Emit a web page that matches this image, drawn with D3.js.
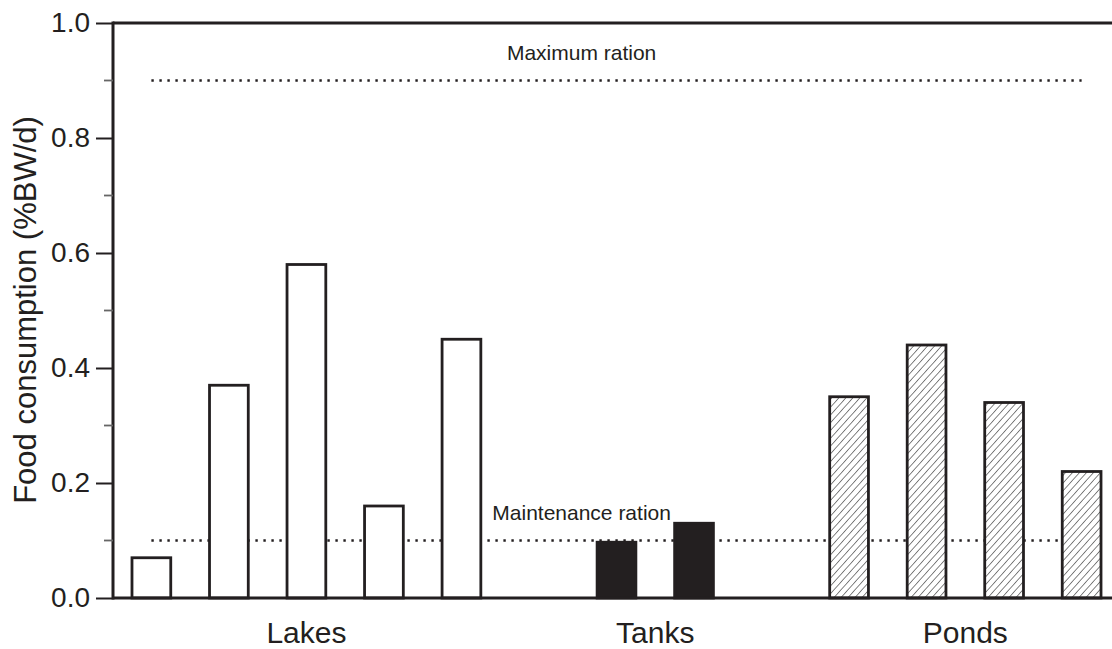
<!DOCTYPE html>
<html><head><meta charset="utf-8">
<script src="https://cdn.jsdelivr.net/npm/d3@7"></script>
<style>
html,body{margin:0;padding:0;background:#fff;}
svg{display:block;font-family:"Liberation Sans",Arial,Helvetica,sans-serif;}
</style></head>
<body>
<svg id="chart" width="1112" height="649"></svg>
<script>
// ---- data ----
const groupNames = ["Lakes", "Tanks", "Ponds"];
const lakesValues = [0.07, 0.37, 0.58, 0.16, 0.45];
const tanksValues = [0.097, 0.13];
const pondsValues = [0.35, 0.44, 0.34, 0.22];
const yMajorTicks = [0.0, 0.2, 0.4, 0.6, 0.8, 1.0];
const yMinorTicks = [0.1, 0.3, 0.5, 0.7, 0.9];
const refLabels = ["Maximum ration", "Maintenance ration"];
const refValues = [0.9, 0.1];
const yAxisTitle = "Food consumption (%BW/d)";

// ---- layout ----
const W = 1112, H = 649;
const ink = "#231f20";
const svg = d3.select("#chart");
const groupValues = [lakesValues, tanksValues, pondsValues];
const groupStyles = ["open", "solid", "hatch"];

// build slots with one empty slot between groups
const bars = [];
const groupSlots = [];
let slot = 0;
groupValues.forEach((vals, gi) => {
  const slots = [];
  vals.forEach(v => { bars.push({slot, value: v, style: groupStyles[gi]}); slots.push(slot); slot++; });
  groupSlots.push(slots);
  if (gi < groupValues.length - 1) slot++;
});
const nSlots = slot;

const x = d3.scaleBand().domain(d3.range(nSlots)).range([113, 1120]).paddingInner(0.5).paddingOuter(0.245);
const y = d3.scaleLinear().domain([0, 1]).range([598, 23]);
const xc = s => x(s) + x.bandwidth() / 2;

// hatch pattern
const defs = svg.append("defs");
const pat = defs.append("pattern").attr("id", "hatch").attr("patternUnits", "userSpaceOnUse")
  .attr("width", 5.2).attr("height", 10).attr("patternTransform", "rotate(42)");
pat.append("rect").attr("width", 5.2).attr("height", 10).attr("fill", "#fff");
pat.append("line").attr("x1", 0).attr("y1", 0).attr("x2", 0).attr("y2", 10)
  .attr("stroke", "#333").attr("stroke-width", 1.2);

// reference dotted lines
const x0 = xc(0), x1 = xc(nSlots - 1);
svg.selectAll("line.ref").data(refValues).join("line").attr("class", "ref")
  .attr("x1", x0).attr("x2", x1).attr("y1", d => y(d)).attr("y2", d => y(d))
  .attr("stroke", ink).attr("stroke-width", 2.4).attr("stroke-dasharray", "2.4,5.6");
const labelX = xc(5) + x.step() * 0.55;
svg.selectAll("text.reflab").data(refValues).join("text").attr("class", "reflab")
  .attr("x", labelX).attr("y", d => y(d) - 21).attr("text-anchor", "middle")
  .attr("font-size", 21).attr("fill", ink)
  .text((d, i) => refLabels[i]);

// bars
svg.selectAll("rect.bar").data(bars).join("rect").attr("class", "bar")
  .attr("x", d => x(d.slot)).attr("width", x.bandwidth())
  .attr("y", d => y(d.value)).attr("height", d => y(0) - y(d.value))
  .attr("fill", d => d.style === "solid" ? ink : d.style === "hatch" ? "url(#hatch)" : "#fff")
  .attr("stroke", ink).attr("stroke-width", 2.8);

// axes frame
svg.append("line").attr("x1", 113).attr("x2", W).attr("y1", y(1)).attr("y2", y(1))
  .attr("stroke", ink).attr("stroke-width", 3);
svg.append("line").attr("x1", 113).attr("x2", W).attr("y1", y(0)).attr("y2", y(0))
  .attr("stroke", ink).attr("stroke-width", 3);

const yAxis = svg.append("g").attr("transform", "translate(113,0)")
  .call(d3.axisLeft(y).tickValues(yMajorTicks).tickFormat(d3.format(".1f")).tickSize(17).tickPadding(6));
yAxis.select(".domain").attr("stroke", ink).attr("stroke-width", 3).attr("d", `M0,${y(0)+1.5}V${y(1)-1.5}`);
yAxis.selectAll(".tick line").attr("stroke", ink).attr("stroke-width", 2);
yAxis.selectAll(".tick text").attr("fill", ink).attr("font-size", 28)
  .attr("font-family", "Liberation Sans, Arial, sans-serif");

svg.append("g").selectAll("line").data(yMinorTicks).join("line")
  .attr("x1", 104).attr("x2", 113).attr("y1", d => y(d)).attr("y2", d => y(d))
  .attr("stroke", "#666").attr("stroke-width", 1.8);

// group labels
svg.selectAll("text.grp").data(groupNames).join("text").attr("class", "grp")
  .attr("x", (d, i) => (xc(groupSlots[i][0]) + xc(groupSlots[i][groupSlots[i].length - 1])) / 2)
  .attr("y", 643).attr("text-anchor", "middle").attr("font-size", 30).attr("fill", ink)
  .text(d => d);

// y title
svg.append("text").attr("transform", "translate(36,310) rotate(-90)")
  .attr("text-anchor", "middle").attr("font-size", 31).attr("fill", ink).text(yAxisTitle);
</script>
</body></html>
